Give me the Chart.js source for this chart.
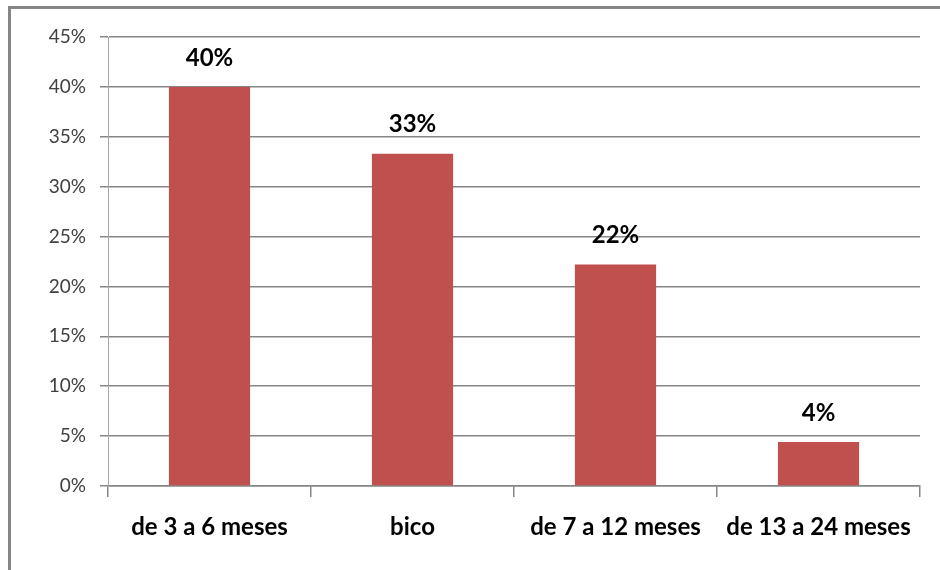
<!DOCTYPE html>
<html lang="pt">
<head>
<meta charset="UTF-8">
<title>Idade</title>
<style>
  * { margin: 0; padding: 0; box-sizing: border-box; }
  body { width: 940px; height: 570px; background: #fff; overflow: hidden; position: relative; }
  .frame {
    position: absolute; left: 8px; top: 6px; width: 1000px; height: 1000px;
    border-left: 3px solid #868686; border-top: 3px solid #868686;
  }
  #wrap { position: absolute; left: 0; top: 0; width: 940px; height: 570px; }
</style>
</head>
<body>
<div class="frame"></div>
<div id="wrap"><canvas id="chart" width="940" height="570"></canvas></div>

<script src="https://cdn.jsdelivr.net/npm/chart.js"></script>
<script>
  // dados
  const categories = ['de 3 a 6 meses', 'bico', 'de 7 a 12 meses', 'de 13 a 24 meses'];
  const values = [40, 33.3, 22.2, 4.4];
  const yTicks = [0, 5, 10, 15, 20, 25, 30, 35, 40, 45];

  const gridColor = '#868686';
  const fontFamily = 'Lato, "Open Sans", sans-serif';

  // rótulos em cima das barras
  const valueLabels = {
    id: 'valueLabels',
    afterDatasetsDraw(chart) {
      const ctx = chart.ctx;
      const meta = chart.getDatasetMeta(0);
      ctx.save();
      ctx.font = 'bold 24px ' + fontFamily;
      ctx.fillStyle = '#000';
      ctx.textAlign = 'center';
      ctx.textBaseline = 'middle';
      meta.data.forEach((bar, i) => {
        ctx.fillText(Math.round(values[i]) + '%', bar.x, bar.y - 29);
      });
      ctx.restore();
    }
  };

  const ctx = document.getElementById('chart').getContext('2d');
  new Chart(ctx, {
    type: 'bar',
    data: {
      labels: categories,
      datasets: [{
        data: values,
        backgroundColor: '#C0504D',
        categoryPercentage: 1,
        barPercentage: 0.4
      }]
    },
    options: {
      responsive: false,
      animation: false,
      layout: { padding: { left: 0, top: 37, right: 20, bottom: 0 } },
      plugins: { legend: { display: false }, tooltip: { enabled: false } },
      scales: {
        x: {
          grid: {
            offset: true,
            drawOnChartArea: false,
            color: gridColor,
            lineWidth: 1.5,
            tickLength: 11
          },
          border: { color: gridColor, width: 1.5 },
          ticks: {
            color: '#000',
            padding: 16,
            font: { family: fontFamily, size: 24, weight: 'bold' }
          },
          afterFit(scale) { scale.height = 84; }
        },
        y: {
          min: 0,
          max: 45,
          afterBuildTicks(scale) { scale.ticks = yTicks.map(v => ({ value: v })); },
          grid: { color: gridColor, lineWidth: 1.5, tickLength: 8 },
          border: { color: '#a6a6a6', width: 1 },
          ticks: {
            color: '#404040',
            padding: 14,
            font: { family: fontFamily, size: 19 },
            callback: v => v + '%'
          },
          afterFit(scale) { scale.width = 108; }
        }
      }
    },
    plugins: [valueLabels]
  });
</script>
</body>
</html>
